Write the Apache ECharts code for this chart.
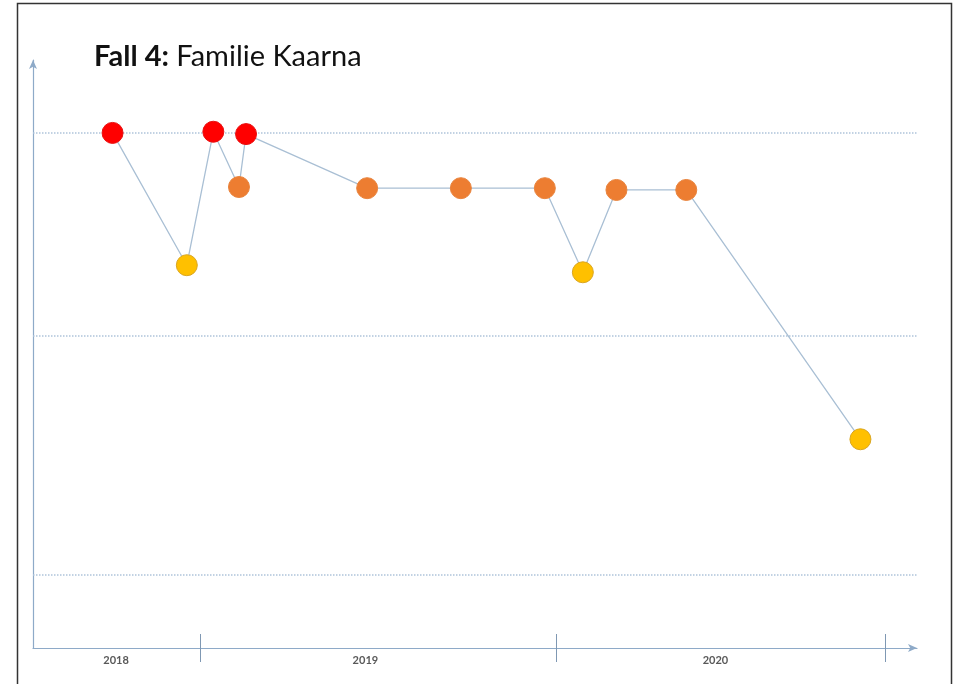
<!DOCTYPE html>
<html>
<head>
<meta charset="utf-8">
<script src="https://cdn.jsdelivr.net/npm/echarts@6/dist/echarts.min.js"></script>
<style>
html,body{margin:0;padding:0;background:#fff;}
#c{width:955px;height:684px;}
</style>
</head>
<body>
<div id="c"></div>
<script>
// Time position (0-100 along the time axis) and level (0-100) of each assessment
const xValues = [9.0, 17.4, 20.4, 23.3, 24.1, 37.8, 48.4, 57.9, 62.2, 66.0, 73.9, 93.6];
const yValues = [87.6, 65.1, 87.8, 78.4, 87.4, 78.2, 78.2, 78.2, 63.9, 77.9, 77.9, 35.5];
const levels  = ['rot','gelb','rot','orange','rot','orange','orange','orange','gelb','orange','orange','gelb'];
// Year boundaries and year labels
const yearBounds = [18.9, 59.2, 96.4];
const yearLabelPos = [9.4, 37.6, 77.2];
const yearLabels = ['2018', '2019', '2020'];
// Reference lines
const refLines = [87.6, 53.1, 12.4];

const levelColor = {rot: '#ff0000', orange: '#ed7d31', gelb: '#ffc000'};
const levelBorder = {rot: '#e81010', orange: '#e8843e', gelb: '#d9a520'};

const axisColor = '#8eaac8';
const chart = echarts.init(document.getElementById('c'));
chart.setOption({
  animation: false,
  title: {
    left: 89, top: 37,
    text: '{b|Fall 4:} Familie Kaarna',
    textStyle: {
      fontFamily: 'Lato', fontSize: 29, color: '#111', fontWeight: 'normal',
      rich: { b: { fontFamily: 'Lato', fontSize: 29, fontWeight: 'bold', color: '#111' } }
    }
  },
  graphic: [{
    type: 'rect', left: 15, top: 1, z: 100, silent: true,
    shape: {width: 934, height: 690},
    style: {fill: 'none', stroke: '#333', lineWidth: 1.5}
  }],
  grid: {left: 33, right: 38, top: 60, bottom: 36},
  xAxis: [{
    type: 'value', min: 0, max: 100,
    splitLine: {show: false},
    axisLine: {show: true, lineStyle: {color: axisColor, width: 1.2}, symbol: ['none', 'arrow'], symbolSize: [6, 9]},
    axisTick: {show: true, customValues: yearBounds, length: 14, inside: false, lineStyle: {color: '#7f98b3', width: 1}},
    axisLabel: {
      show: true, customValues: yearLabelPos, margin: 7,
      fontFamily: 'Lato', fontSize: 11, fontWeight: 'bold', color: '#595959',
      formatter: function (v) {
        const i = yearLabelPos.findIndex(p => Math.abs(p - v) < 1e-6);
        return i >= 0 ? yearLabels[i] : '';
      }
    }
  }, {
    type: 'value', min: 0, max: 100, position: 'bottom',
    splitLine: {show: false},
    axisLine: {show: false},
    axisLabel: {show: false},
    axisTick: {show: true, customValues: yearBounds, length: 14, inside: true, lineStyle: {color: '#7f98b3', width: 1}}
  }],
  yAxis: {
    type: 'value', min: 0, max: 100,
    splitLine: {show: false},
    axisTick: {show: false},
    axisLabel: {show: false},
    axisLine: {show: true, lineStyle: {color: axisColor, width: 1.2}, symbol: ['none', 'arrow'], symbolSize: [6, 9]}
  },
  series: [{
    type: 'line',
    data: [],
    z: 1,
    markLine: {
      silent: true, symbol: 'none', label: {show: false},
      lineStyle: {color: '#afc4da', type: 'dotted', width: 1.5},
      data: refLines.map(v => ({yAxis: v}))
    }
  }, {
    type: 'line',
    data: xValues.map((x, i) => ({
      value: [x, yValues[i]],
      itemStyle: {color: levelColor[levels[i]], borderColor: levelBorder[levels[i]], borderWidth: 1}
    })),
    symbol: 'circle', symbolSize: 21,
    showAllSymbol: true,
    lineStyle: {color: '#a9bfd4', width: 1.3},
    z: 5
  }]
});
</script>
</body>
</html>
